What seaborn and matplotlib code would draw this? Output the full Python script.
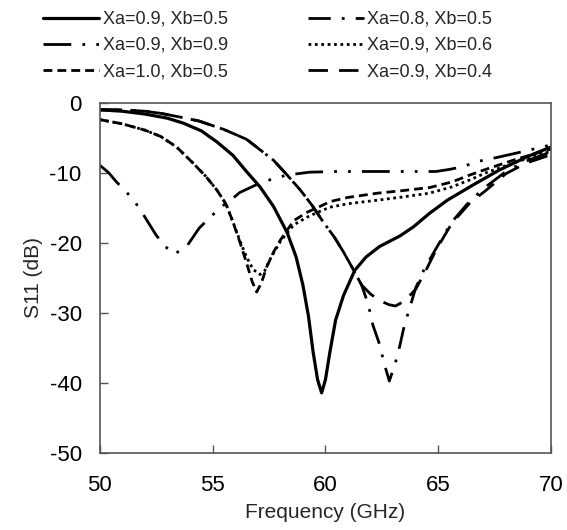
import numpy as np
import pandas as pd
import seaborn as sns
import matplotlib.pyplot as plt
from matplotlib.font_manager import FontProperties

# values
f_a = [50.0, 51.0, 52.0, 53.0, 53.7, 54.5, 55.2, 55.9, 56.5, 57.1, 57.7, 58.3, 58.7, 59.0,
       59.25, 59.45, 59.65, 59.83, 60.0, 60.2, 60.45, 60.8, 61.3, 61.8, 62.4, 63.3, 63.9,
       64.6, 65.4, 66.5, 67.7, 69.0, 70.0]
s_a = [-1.0, -1.2, -1.6, -2.2, -2.9, -4.0, -5.6, -7.5, -9.8, -12.0, -14.8, -18.5, -22.0, -26.0,
       -30.5, -35.5, -39.5, -41.4, -39.5, -35.5, -31.0, -27.5, -23.9, -22.0, -20.5, -19.0, -17.7,
       -15.8, -13.9, -11.8, -9.6, -7.6, -6.3]

f_b = [50.0, 50.4, 50.74, 51.2, 51.55, 51.9, 52.5, 52.9, 53.3, 53.85, 54.4, 54.9, 55.4, 55.8,
       56.2, 57.2, 58.3, 59.3, 60.5, 62.0, 63.5, 64.9, 65.5, 66.1, 66.7, 67.6, 68.7, 70.0]
s_b = [-8.9, -10.0, -11.3, -12.8, -14.1, -15.8, -18.9, -20.5, -21.6, -20.5, -17.9, -16.3, -14.8, -13.9,
       -12.8, -11.3, -10.3, -9.9, -9.8, -9.8, -9.8, -9.8, -9.5, -9.1, -8.4, -7.8, -7.0, -6.0]

f_c = [50.0, 51.0, 52.0, 52.7, 53.4, 54.1, 54.7, 55.2, 55.6, 55.9, 56.2, 56.5, 56.75, 56.95,
       57.15, 57.4, 57.7, 58.0, 58.6, 59.2, 59.75, 60.2, 61.0, 62.3, 63.5, 64.6, 65.6, 66.4,
       67.1, 68.5, 70.0]
s_c = [-2.4, -3.0, -3.9, -4.8, -6.3, -8.5, -10.5, -12.5, -14.5, -17.0, -19.8, -22.8, -25.5, -27.0,
       -25.8, -23.4, -21.3, -19.6, -16.8, -15.6, -14.8, -14.1, -13.5, -12.9, -12.5, -12.1, -11.3, -10.3,
       -9.5, -8.0, -6.6]

f_d = [50.0, 51.0, 52.0, 52.7, 53.5, 54.4, 55.5, 56.5, 57.7, 58.3, 58.9, 59.4, 59.9, 60.4, 60.8,
       61.2, 61.6, 61.9, 62.1, 62.4, 62.6, 62.83, 63.1, 63.3, 63.5, 63.75, 64.0, 64.4, 64.9, 65.6,
       66.4, 67.1, 68.0, 68.9, 70.0]
s_d = [-1.0, -1.0, -1.2, -1.5, -2.0, -2.6, -3.8, -5.2, -8.2, -10.3, -12.5, -14.6, -17.0, -19.2, -21.3,
       -23.6, -26.0, -28.8, -31.7, -34.5, -37.2, -39.7, -37.1, -34.6, -31.7, -29.1, -26.4, -23.6, -20.8, -17.0,
       -14.0, -12.0, -9.8, -8.3, -7.0]

f_e = [50.0, 51.0, 52.0, 52.7, 53.4, 54.1, 54.7, 55.2, 55.6, 55.9, 56.2, 56.5, 56.8, 57.1, 57.3,
       57.6, 58.0, 58.6, 59.2, 59.6, 60.2, 61.0, 62.3, 63.5, 64.6, 65.6, 66.4, 67.1, 68.5, 70.0]
s_e = [-2.4, -3.0, -3.9, -4.8, -6.3, -8.5, -10.5, -12.5, -14.5, -17.0, -19.6, -22.0, -23.8, -24.5, -24.0,
       -22.0, -19.8, -17.4, -16.3, -15.7, -14.9, -14.4, -13.9, -13.4, -12.9, -12.0, -11.0, -10.0, -8.4, -6.9]

f_f = [50.0, 51.0, 52.0, 52.7, 53.5, 54.4, 55.5, 56.5, 57.7, 58.3, 58.9, 59.4, 59.9, 60.4, 60.8,
       61.2, 61.6, 62.0, 62.4, 62.8, 63.1, 63.5, 64.0, 64.5, 64.9, 65.6, 66.4, 67.15, 68.0, 68.9, 70.0]
s_f = [-1.0, -1.0, -1.2, -1.5, -2.0, -2.6, -3.8, -5.2, -8.2, -10.3, -12.5, -14.6, -17.0, -19.2, -21.3,
       -23.6, -26.0, -27.3, -28.2, -28.8, -29.0, -28.3, -26.6, -23.6, -21.0, -17.2, -14.3, -12.4, -10.1, -8.6, -7.4]

labels = ["Xa=0.9, Xb=0.5", "Xa=0.9, Xb=0.9", "Xa=1.0, Xb=0.5",
          "Xa=0.8, Xb=0.5", "Xa=0.9, Xb=0.6", "Xa=0.9, Xb=0.4"]

sns.set_theme(style="ticks")
plt.rcParams['font.family'] = ['Liberation Sans', 'DejaVu Sans']
plt.rcParams['axes.unicode_minus'] = False

fig = plt.figure(figsize=(5.67, 5.30), dpi=100)
ax = fig.add_axes([0.176, 0.145, 0.796, 0.661])

series = [
    (f_a, s_a, '-', 2.3),
    (f_b, s_b, (0, (10, 4, 1, 4, 1, 4)), 2.0),
    (f_c, s_c, (0, (3.2, 1.8)), 2.0),
    (f_d, s_d, (0, (8, 4, 1, 4)), 2.0),
    (f_e, s_e, (0, (1, 1.3)), 2.0),
    (f_f, s_f, (0, (7, 4)), 2.0),
]
for (fx, sy, ls, lw), lab in zip(series, labels):
    sns.lineplot(x=fx, y=sy, ax=ax, color='black', linestyle=ls, linewidth=lw, label=lab)

ax.set_xlim(50, 70)
ax.set_ylim(-50, 0)
ax.set_xticks([50, 55, 60, 65, 70])
ax.set_yticks([0, -10, -20, -30, -40, -50])
ax.tick_params(direction='in', length=6, width=1, colors='#555555', labelcolor='black',
               labelsize=16)
ax.tick_params(axis='x', pad=16)
ax.tick_params(axis='y', pad=13)
for sp in ax.spines.values():
    sp.set_visible(True)
    sp.set_color('#555555')
    sp.set_linewidth(1.2)
ax.set_xlabel("Frequency (GHz)", fontsize=15, labelpad=5)
ax.set_ylabel("S11 (dB)", fontsize=15, labelpad=5)

handles, labs = ax.get_legend_handles_labels()
ax.get_legend().remove()
leg_font = FontProperties(family=['Liberation Sans Narrow', 'Liberation Sans'], size=13)
fig.legend(handles, labs, ncol=2, loc='upper left', bbox_to_anchor=(0.048, 1.01),
           frameon=False, prop=leg_font, handlelength=3.1, handletextpad=0.2,
           columnspacing=4.4, labelspacing=0.5)

fig.savefig("out.png", dpi=100)
